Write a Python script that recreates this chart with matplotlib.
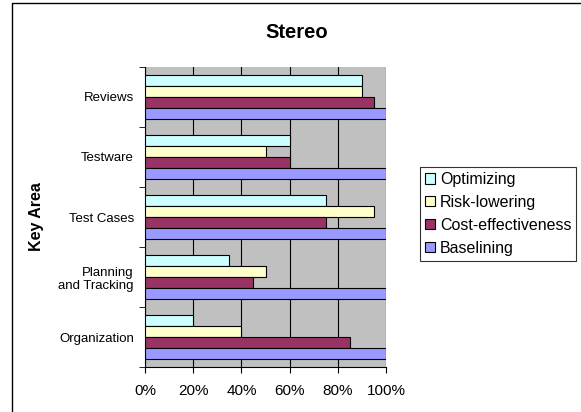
import matplotlib.pyplot as plt
import matplotlib.lines as mlines
import numpy as np

# Data
categories = ["Organization", "Planning\nand Tracking", "Test Cases", "Testware", "Reviews"]
series_names = ["Optimizing", "Risk-lowering", "Cost-effectiveness", "Baselining"]
optimizing = [20, 35, 75, 60, 90]
risk_lowering = [40, 50, 95, 50, 90]
cost_effectiveness = [85, 45, 75, 60, 95]
baselining = [100, 100, 100, 100, 100]
colors = ["#CCFFFF", "#FFFFCC", "#993366", "#9999FF"]

plt.rcParams['font.family'] = ['Liberation Sans', 'DejaVu Sans']

fig = plt.figure(figsize=(5.81, 4.12), dpi=100)
ax = fig.add_axes([0.2496, 0.1092, 0.4148, 0.7282])
ax.set_facecolor("#C0C0C0")

# outer chart border (only top and left edges fall inside the image)
bx, by = 12 / 581, 1 - 3 / 412
fig.lines.append(mlines.Line2D([bx, bx, 1.0], [0.0, by, by], transform=fig.transFigure,
                               color="black", linewidth=1.0))

y = np.arange(len(categories))
bar_h = 0.18
series = [optimizing, risk_lowering, cost_effectiveness, baselining]
for i, (vals, name, col) in enumerate(zip(series, series_names, colors)):
    offset = (1.5 - i) * bar_h
    ax.barh(y + offset, vals, height=bar_h, color=col, edgecolor="black",
            linewidth=0.8, label=name, zorder=3)

ax.set_xlim(0, 100)
ax.set_ylim(-0.5, len(categories) - 0.5)
ax.set_xticks([0, 20, 40, 60, 80, 100])
ax.set_xticklabels([f"{v}%" for v in [0, 20, 40, 60, 80, 100]], fontsize=11)
ax.xaxis.grid(True, color="black", linewidth=0.8, zorder=1)
ax.set_axisbelow(True)

ax.set_yticks(y)
ax.set_yticklabels(categories, fontsize=9.5)
ax.tick_params(axis='y', which='major', length=0, pad=8)
ax.set_yticks(np.arange(-0.5, len(categories)), minor=True)
ax.tick_params(axis='y', which='minor', length=4, direction='out')
ax.tick_params(axis='x', length=4, direction='out', pad=8)

for s in ["top", "right"]:
    ax.spines[s].set_visible(False)
ax.spines["left"].set_linewidth(0.8)
ax.spines["bottom"].set_linewidth(0.8)

ax.set_ylabel("Key Area", fontsize=11.5, fontweight="bold")
ax.yaxis.set_label_coords(-0.42, 0.5)

fig.text(297 / 581, 1 - 32 / 412, "Stereo", ha="center", va="center",
         fontsize=14.5, fontweight="bold")

leg = fig.legend(loc="upper left", bbox_to_anchor=(420 / 581, 1 - 167 / 412),
                 fontsize=11.5, frameon=True, fancybox=False, handlelength=0.65,
                 handleheight=0.65, handletextpad=0.3, borderpad=0.3,
                 labelspacing=0.5, borderaxespad=0)
leg.get_frame().set_edgecolor("black")
leg.get_frame().set_linewidth(0.8)

plt.savefig("out.png", dpi=100)
plt.close()
